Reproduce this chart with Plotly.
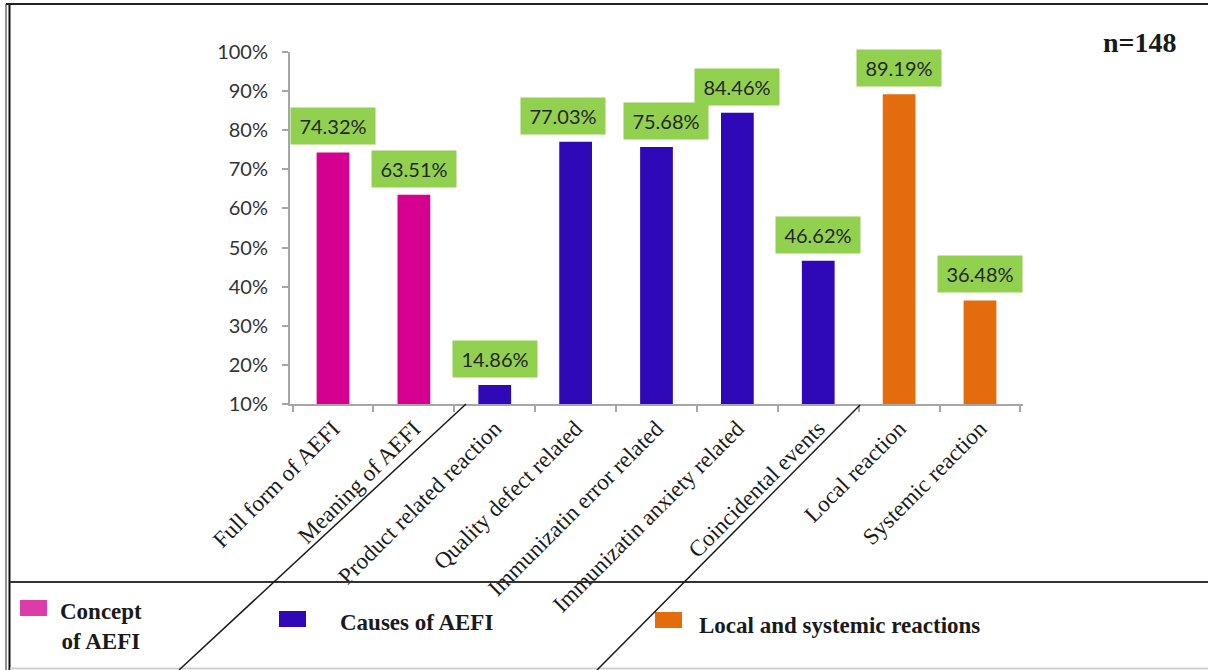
import plotly.graph_objects as go

# Knowledge items and share of respondents (%) answering correctly
categories = [
    "Full form of AEFI",
    "Meaning of AEFI",
    "Product related reaction",
    "Quality defect related",
    "Immunizatin error related",
    "Immunizatin anxiety related",
    "Coincidental events",
    "Local reaction",
    "Systemic reaction",
]
values = [74.32, 63.51, 14.86, 77.03, 75.68, 84.46, 46.62, 89.19, 36.48]
groups = ["concept", "concept", "causes", "causes", "causes", "causes", "causes",
          "reactions", "reactions"]

group_labels = {
    "concept": "Concept<br>of AEFI",
    "causes": "Causes of AEFI",
    "reactions": "Local and systemic reactions",
}
bar_colors = {"concept": "#D60090", "causes": "#2F08B8", "reactions": "#E36C0C"}
key_colors = {"concept": "#DC3CA8", "causes": "#2F08B8", "reactions": "#E36C0C"}
y_ticks = [10, 20, 30, 40, 50, 60, 70, 80, 90, 100]

W, H = 1208, 670


def px(x):
    return x / W


def py(y):
    return 1 - y / H


fig = go.Figure()
fig.add_trace(go.Bar(
    x=categories,
    y=values,
    width=0.405,
    marker=dict(color=[bar_colors[g] for g in groups], line=dict(width=0)),
    hoverinfo="x+y",
))

# nudge two neighbouring value boxes apart so they do not collide
label_nudge = {"Quality defect related": -13, "Immunizatin error related": 9}

# value labels in green boxes above each bar
annotations = []
for c, v in zip(categories, values):
    annotations.append(dict(
        x=c, y=v, xref="x", yref="y",
        text=f"{v:.2f}%",
        showarrow=False,
        yanchor="bottom",
        yshift=7,
        xshift=label_nudge.get(c, 0),
        width=80, height=32,
        borderpad=2,
        bgcolor="#92D050",
        font=dict(family="Lato", size=20, color="#262626"),
    ))

# sample size
annotations.append(dict(
    x=px(1140), y=py(43), xref="paper", yref="paper",
    text="<b>n=148</b>", showarrow=False,
    xanchor="center", yanchor="middle",
    font=dict(family="Liberation Serif", size=28, color="#1a1a1a"),
))

# group key along the bottom strip
key_items = [
    ("concept", 20, 600, 101, 626, "center"),
    ("causes", 279, 611, 338, 622, "left"),
    ("reactions", 655, 612, 697, 625, "left"),
]
shapes = []
for g, sx, sy, tx, ty, anchor in key_items:
    shapes.append(dict(
        type="rect", xref="paper", yref="paper",
        x0=px(sx), x1=px(sx + 27), y0=py(sy), y1=py(sy + 16),
        fillcolor=key_colors[g], line=dict(width=0),
    ))
    annotations.append(dict(
        x=px(tx), y=py(ty), xref="paper", yref="paper",
        text=f"<b>{group_labels[g]}</b>", showarrow=False,
        xanchor=anchor, yanchor="middle", align="center",
        font=dict(family="Liberation Serif", size=23, color="#1a1a1a"),
    ))

# frame: double left rule, top rule, separator above the key, bottom edge
frame_lines = [
    (6, 4, 6, 670, "#6a6a6a", 1.5),
    (9.5, 4, 9.5, 670, "#111111", 2),
    (6, 4, 1208, 4, "#222222", 2),
    (10, 582, 1208, 582, "#333333", 2),
    (10, 668.5, 1208, 668.5, "#d0d0d0", 2),
]
for x0, y0, x1, y1, col, w in frame_lines:
    shapes.append(dict(
        type="line", xref="paper", yref="paper",
        x0=px(x0), y0=py(y0), x1=px(x1), y1=py(y1),
        line=dict(color=col, width=w),
    ))

# diagonal dividers between the three groups
for x0, y0, x1, y1 in [(466, 404, 179, 670), (860, 405, 597, 670)]:
    shapes.append(dict(
        type="line", xref="paper", yref="paper",
        x0=px(x0), y0=py(y0), x1=px(x1), y1=py(y1),
        line=dict(color="#1a1a1a", width=1.5),
    ))

axis_gray = "#A6A6A6"
fig.update_layout(
    width=W, height=H,
    margin=dict(l=0, r=0, t=0, b=0),
    paper_bgcolor="white",
    plot_bgcolor="white",
    showlegend=False,
    xaxis=dict(
        domain=[px(290), px(1023)],
        type="category",
        categoryorder="array", categoryarray=categories,
        showline=True, linecolor=axis_gray, linewidth=2,
        ticks="outside", tickson="boundaries", ticklen=6,
        tickcolor=axis_gray, tickwidth=1.5,
        tickangle=-45,
        tickfont=dict(family="Liberation Serif", size=23, color="#1a1a1a"),
        showgrid=False, zeroline=False,
        automargin=False,
    ),
    yaxis=dict(
        domain=[py(404), py(52)],
        range=[10, 100],
        tickvals=y_ticks,
        ticktext=[f"{t}%" for t in y_ticks],
        showline=True, linecolor=axis_gray, linewidth=2,
        ticks="outside", ticklen=6, tickcolor=axis_gray, tickwidth=1.5,
        ticklabelstandoff=10,
        tickfont=dict(family="Lato", size=20, color="#333333"),
        showgrid=False, zeroline=False,
        automargin=False,
    ),
    shapes=shapes,
    annotations=annotations,
)

fig.write_html("out.html")
